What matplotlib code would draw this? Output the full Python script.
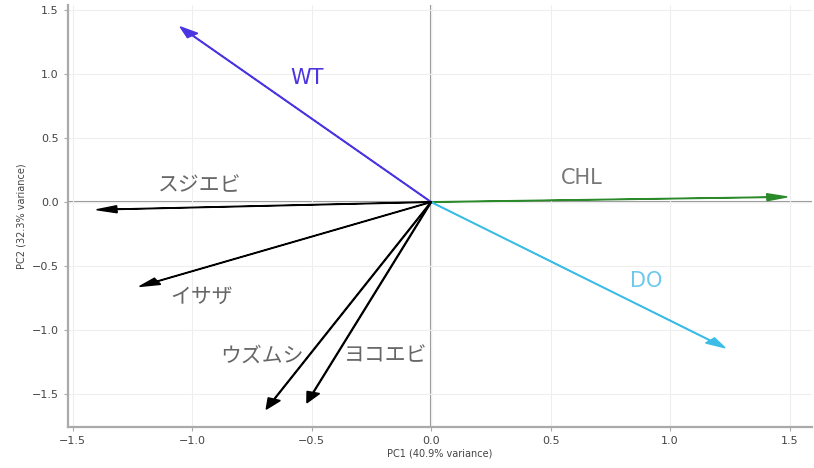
import matplotlib
matplotlib.use("Agg")
import matplotlib.pyplot as plt

# loadings (arrow tips) and label positions
names = ["WT", "CHL", "DO", "スジエビ", "イサザ", "ウズムシ", "ヨコエビ"]
pc1 = [-1.05, 1.49, 1.23, -1.40, -1.22, -0.69, -0.52]
pc2 = [1.37, 0.04, -1.14, -0.06, -0.66, -1.62, -1.57]
label_x = [-0.52, 0.63, 0.90, -0.97, -0.96, -0.71, -0.19]
label_y = [0.97, 0.19, -0.62, 0.13, -0.74, -1.20, -1.20]
arrow_colors = ["#4a35e0", "#2a8a2a", "#3cbde8", "black", "black", "black", "black"]
text_colors = ["#4a35e0", "#777777", "#6cc8ec", "#666666", "#666666", "#666666", "#666666"]

fonts = ["DejaVu Sans", "Noto Sans CJK JP"]

fig = plt.figure(figsize=(8.14, 4.68), dpi=100)
ax = fig.add_axes([0.0835, 0.088, 0.914, 0.901])

ax.grid(True, color="#eeeeee", linewidth=0.8)
ax.axhline(0, color="#999999", linewidth=1.5, zorder=1)
ax.axvline(0, color="#999999", linewidth=1.5, zorder=1)

for i in range(len(names)):
    ax.arrow(0, 0, pc1[i], pc2[i], color=arrow_colors[i], width=0.004,
             head_width=0.055, head_length=0.085, length_includes_head=True, zorder=3)
    ax.text(label_x[i], label_y[i], names[i], color=text_colors[i], fontsize=15,
            ha="center", va="center", family=fonts)

ax.set_xlim(-1.52, 1.594)
ax.set_ylim(-1.758, 1.54)
ax.set_xticks([-1.5, -1.0, -0.5, 0.0, 0.5, 1.0, 1.5])
ax.set_yticks([-1.5, -1.0, -0.5, 0.0, 0.5, 1.0, 1.5])
ax.tick_params(labelsize=8, colors="#444444", length=3, width=0.8, color="#aaaaaa")
for s in ["top", "right"]:
    ax.spines[s].set_visible(False)
for s in ["left", "bottom"]:
    ax.spines[s].set_color("#aaaaaa")
    ax.spines[s].set_linewidth(1.6)

ax.set_xlabel("PC1 (40.9% variance)", fontsize=7, color="#444444", labelpad=2)
ax.set_ylabel("PC2 (32.3% variance)", fontsize=7, color="#444444", labelpad=4)

fig.savefig("out.png", dpi=100)
